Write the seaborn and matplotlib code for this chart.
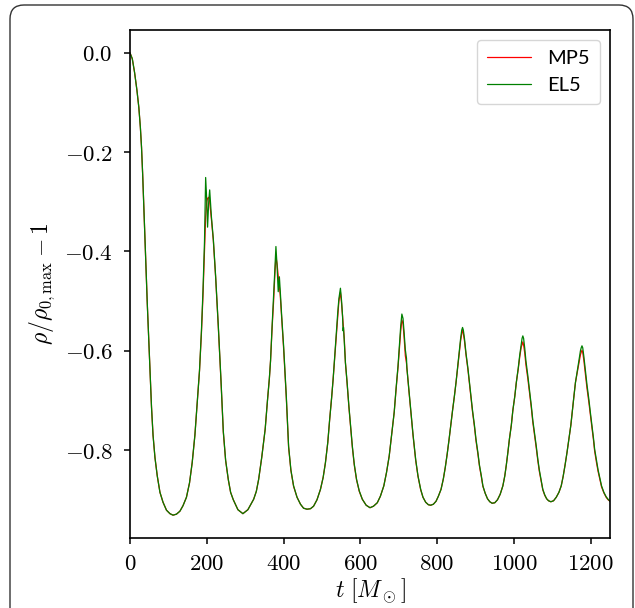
import numpy as np
import pandas as pd
import seaborn as sns
import matplotlib
matplotlib.use("Agg")
import matplotlib.pyplot as plt
from matplotlib.patches import FancyBboxPatch
from matplotlib.transforms import IdentityTransform
from matplotlib.ticker import FuncFormatter

#--> data (t in M_sun, rho/rho_0,max - 1)
t_el5 = [0, 6, 12, 18, 23, 27, 30, 33, 36, 39, 42, 45, 49, 52, 56, 60, 65, 71, 78, 86,
         95, 104, 112, 121, 130, 138, 147, 155, 162, 169, 175, 181, 186, 190, 194, 197,
         200, 202, 205, 207.5, 212, 217, 223, 230, 237, 243, 249, 256, 262, 269, 281,
         294, 307, 322, 329, 335, 343, 352, 358, 363, 366, 370, 374, 377, 380, 383, 386,
         389, 391, 395, 400, 407, 413, 419, 426, 435, 444, 452, 461, 470, 478, 487, 496,
         503, 509, 515, 520, 525, 529, 532, 535, 538, 541, 544, 548, 551, 553.5, 555,
         556, 558, 561, 565, 570, 575, 579, 584, 590, 597, 605, 615, 625, 634, 644, 652,
         661, 668, 675, 681, 688, 693, 698, 702, 705, 708, 711, 714, 717, 720, 721, 726,
         731, 737, 744, 750, 757, 763, 770, 777, 783, 790, 797, 803, 810, 816, 821, 826,
         831, 836, 840, 845, 849, 853, 857, 861, 864, 866, 868, 871, 875, 880, 884, 888,
         892, 897, 901, 906, 910, 915, 919, 925, 931, 937, 943, 950, 957, 964, 971, 976,
         980, 984, 988, 993, 997, 1002, 1006, 1011, 1015, 1019, 1021, 1023, 1025, 1028,
         1031, 1036, 1040, 1045, 1049, 1054, 1058, 1062, 1066, 1071, 1075, 1080, 1085,
         1090, 1096, 1103, 1110, 1117, 1123, 1128, 1133, 1138, 1143, 1148, 1152, 1156,
         1160, 1165, 1169, 1173, 1175, 1177, 1179, 1182, 1186, 1190, 1195, 1199, 1203,
         1207, 1210, 1215, 1219, 1224, 1228, 1234, 1240, 1245, 1250]

rho_el5 = [0.0, -0.012, -0.040, -0.075, -0.110, -0.150, -0.190, -0.245, -0.310, -0.378,
           -0.444, -0.505, -0.580, -0.640, -0.713, -0.770, -0.815, -0.852, -0.885, -0.905,
           -0.921, -0.928, -0.931, -0.929, -0.923, -0.912, -0.895, -0.866, -0.825, -0.770,
           -0.705, -0.640, -0.560, -0.480, -0.380, -0.251, -0.300, -0.351, -0.300, -0.276,
           -0.330, -0.375, -0.450, -0.550, -0.660, -0.762, -0.820, -0.859, -0.885, -0.900,
           -0.920, -0.928, -0.920, -0.899, -0.883, -0.859, -0.815, -0.758, -0.700, -0.655,
           -0.620, -0.551, -0.490, -0.440, -0.390, -0.430, -0.481, -0.451, -0.476, -0.530,
           -0.590, -0.691, -0.792, -0.840, -0.872, -0.895, -0.909, -0.917, -0.919, -0.918,
           -0.913, -0.900, -0.879, -0.855, -0.825, -0.785, -0.738, -0.695, -0.657, -0.625,
           -0.590, -0.556, -0.523, -0.495, -0.474, -0.500, -0.530, -0.560, -0.553, -0.580,
           -0.624, -0.660, -0.711, -0.755, -0.792, -0.828, -0.859, -0.882, -0.899, -0.911,
           -0.916, -0.913, -0.906, -0.893, -0.872, -0.845, -0.812, -0.772, -0.724, -0.675,
           -0.630, -0.585, -0.550, -0.526, -0.535, -0.565, -0.598, -0.615, -0.634, -0.676,
           -0.718, -0.768, -0.819, -0.852, -0.879, -0.895, -0.905, -0.910, -0.911, -0.909,
           -0.903, -0.893, -0.879, -0.858, -0.835, -0.808, -0.778, -0.745, -0.720, -0.690,
           -0.664, -0.635, -0.605, -0.575, -0.558, -0.553, -0.558, -0.575, -0.605, -0.635,
           -0.664, -0.692, -0.720, -0.750, -0.778, -0.805, -0.830, -0.852, -0.872, -0.887,
           -0.898, -0.904, -0.907, -0.906, -0.900, -0.889, -0.872, -0.852, -0.830, -0.805,
           -0.778, -0.750, -0.720, -0.692, -0.664, -0.635, -0.608, -0.585, -0.575, -0.570,
           -0.575, -0.595, -0.620, -0.650, -0.677, -0.710, -0.740, -0.768, -0.792, -0.818,
           -0.840, -0.862, -0.879, -0.890, -0.898, -0.902, -0.904, -0.902, -0.895, -0.885,
           -0.872, -0.853, -0.830, -0.805, -0.778, -0.750, -0.720, -0.692, -0.664, -0.640,
           -0.620, -0.600, -0.594, -0.590, -0.594, -0.612, -0.640, -0.668, -0.698, -0.725,
           -0.750, -0.776, -0.798, -0.822, -0.840, -0.858, -0.872, -0.885, -0.894, -0.899,
           -0.903]

# MP5 on the same time grid, no spikes and slightly lower peaks
t_mp5 = list(t_el5)
rho_mp5 = [0.0, -0.012, -0.040, -0.075, -0.110, -0.150, -0.190, -0.245, -0.310, -0.378,
           -0.444, -0.505, -0.580, -0.640, -0.713, -0.770, -0.815, -0.852, -0.885, -0.905,
           -0.921, -0.928, -0.931, -0.929, -0.923, -0.912, -0.895, -0.866, -0.825, -0.770,
           -0.705, -0.640, -0.565, -0.490, -0.400, -0.330, -0.300, -0.293, -0.291, -0.300,
           -0.335, -0.378, -0.452, -0.553, -0.662, -0.764, -0.821, -0.860, -0.885, -0.900,
           -0.920, -0.928, -0.920, -0.899, -0.883, -0.859, -0.815, -0.758, -0.700, -0.655,
           -0.620, -0.555, -0.500, -0.450, -0.410, -0.425, -0.450, -0.470, -0.485, -0.535,
           -0.595, -0.694, -0.794, -0.841, -0.873, -0.895, -0.909, -0.917, -0.919, -0.918,
           -0.913, -0.900, -0.879, -0.855, -0.825, -0.785, -0.738, -0.695, -0.657, -0.625,
           -0.592, -0.560, -0.528, -0.500, -0.482, -0.505, -0.530, -0.545, -0.553, -0.575,
           -0.624, -0.662, -0.713, -0.757, -0.794, -0.830, -0.860, -0.883, -0.899, -0.911,
           -0.916, -0.913, -0.906, -0.893, -0.872, -0.845, -0.812, -0.772, -0.724, -0.677,
           -0.633, -0.590, -0.560, -0.538, -0.545, -0.575, -0.610, -0.625, -0.634, -0.678,
           -0.720, -0.770, -0.821, -0.853, -0.880, -0.895, -0.905, -0.910, -0.911, -0.909,
           -0.903, -0.893, -0.879, -0.858, -0.835, -0.808, -0.778, -0.745, -0.720, -0.690,
           -0.664, -0.636, -0.608, -0.580, -0.565, -0.558, -0.565, -0.580, -0.608, -0.638,
           -0.667, -0.695, -0.723, -0.753, -0.781, -0.808, -0.832, -0.854, -0.873, -0.887,
           -0.898, -0.904, -0.907, -0.906, -0.900, -0.889, -0.872, -0.852, -0.830, -0.805,
           -0.778, -0.750, -0.720, -0.692, -0.664, -0.637, -0.612, -0.592, -0.588, -0.582,
           -0.588, -0.605, -0.628, -0.656, -0.682, -0.714, -0.744, -0.772, -0.796, -0.821,
           -0.843, -0.864, -0.880, -0.891, -0.898, -0.902, -0.904, -0.902, -0.895, -0.885,
           -0.872, -0.853, -0.830, -0.805, -0.778, -0.750, -0.720, -0.692, -0.664, -0.642,
           -0.624, -0.608, -0.603, -0.599, -0.603, -0.620, -0.648, -0.675, -0.704, -0.730,
           -0.755, -0.780, -0.802, -0.826, -0.843, -0.860, -0.874, -0.886, -0.895, -0.900,
           -0.903]

#--> plot style
sns.set_theme(style="ticks")
plt.rcParams['mathtext.fontset'] = 'cm'
plt.rcParams['font.family'] = ['Lato', 'DejaVu Sans']
plt.rcParams['text.color'] = 'black'
plt.rcParams['axes.labelcolor'] = 'black'
plt.rcParams['axes.linewidth'] = 1.2
plt.rcParams['xtick.major.width'] = 1.1
plt.rcParams['ytick.major.width'] = 1.1
plt.rcParams['xtick.major.size'] = 4.5
plt.rcParams['ytick.major.size'] = 4.5

fig = plt.figure(figsize=(6.35, 6.08), dpi=100)
ax = fig.add_axes([130 / 635, 1 - 538 / 608, 480 / 635, 508 / 608])

sns.lineplot(x=t_mp5, y=rho_mp5, color='red', lw=0.9, label='MP5', ax=ax, sort=False)
sns.lineplot(x=t_el5, y=rho_el5, color='green', lw=0.9, label='EL5', ax=ax, sort=False)

ax.set_xlim(0, 1250)
ax.set_ylim(-0.977, 0.046)
ax.set_xticks([0, 200, 400, 600, 800, 1000, 1200])
ax.set_yticks([0.0, -0.2, -0.4, -0.6, -0.8])
ax.xaxis.set_major_formatter(FuncFormatter(lambda v, p: f'${v:.0f}$'))
ax.yaxis.set_major_formatter(FuncFormatter(lambda v, p: f'${v:.1f}$'))
ax.tick_params(labelsize=16.5, colors='black')
ax.tick_params(axis='y', pad=8)
ax.tick_params(axis='x', pad=6)
for s in ax.spines.values():
    s.set_color('black')

ax.set_xlabel(r'$t\ [M_\odot]$', fontsize=17, labelpad=2, color='black')
ax.set_ylabel(r'$\rho/\rho_{0,\mathrm{max}} - 1$', fontsize=17, labelpad=5, color='black')

leg = ax.legend(loc='upper right', fontsize=14.5, frameon=True, fancybox=True,
                edgecolor='#cccccc', handlelength=2.2, borderpad=0.5)
leg.get_frame().set_linewidth(1.0)
for txt in leg.get_texts():
    txt.set_color('black')

# rounded outer frame around the figure
frame = FancyBboxPatch((10, -30), 623, 633, boxstyle='round,pad=0,rounding_size=14',
                       transform=IdentityTransform(), fill=False, edgecolor='#333333',
                       linewidth=1.0, clip_on=False)
fig.patches.append(frame)

fig.savefig('out.png', dpi=100)
